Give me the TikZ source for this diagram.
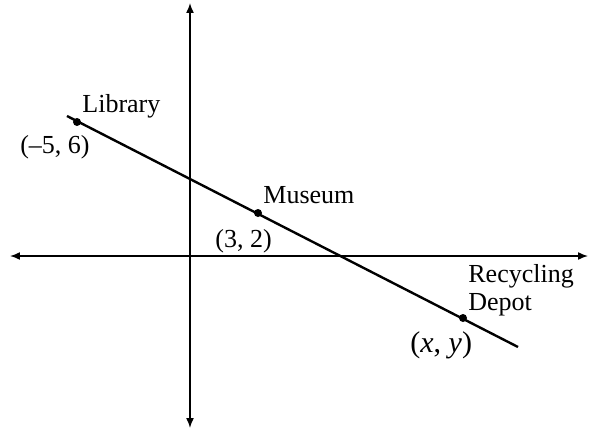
\documentclass[tikz,border=0pt]{standalone}
\usepackage{fontspec}
\setmainfont{Liberation Serif}
\usepackage{tikz}
\usetikzlibrary{arrows.meta}

\begin{document}
\begin{tikzpicture}[x=0.5pt, y=0.5pt, >={Latex[length=5pt,width=4pt]}, font=\fontsize{13}{14}\selectfont,
    lbl/.style={inner sep=0pt},
    dot/.style={circle, fill, inner sep=0pt, minimum size=4pt}]

    \useasboundingbox (-190,-173) rectangle (399,256);

    % --- Achsen ---
    \draw[<->, line width=0.75pt] (-180,0) -- (398,0);
    \draw[<->, line width=0.75pt] (0,-172) -- (0,253);

    % --- Gerade durch die drei Orte ---
    \coordinate (lstart) at (-123,140);
    \coordinate (lend) at (328,-91);
    \draw[line width=1.2pt] (lstart) -- (lend);

    % Punkte
    \node[dot] (library) at (-113,134) {};
    \node[dot] (museum) at (68,43) {};
    \node[dot] (depot) at (273,-62) {};

    % --- Beschriftung ---
    \node[lbl, anchor=base west] (libname) at (-108,144) {Library};
    \node[lbl, anchor=base east] (libxy) at (-100,103) {(–5, 6)};

    \node[lbl, anchor=base west] (musname) at (73,53) {Museum};
    \node[lbl, anchor=base west] (musxy) at (25,9) {(3, 2)};

    \node[lbl, anchor=north west, align=left] (depname) at (278,-8) {Recycling\\Depot};
    \node[lbl, anchor=base west, font=\fontsize{15}{18}\selectfont] (depxy) at (220,-96) {(\textit{x}, \textit{y})};

\end{tikzpicture}
\end{document}
